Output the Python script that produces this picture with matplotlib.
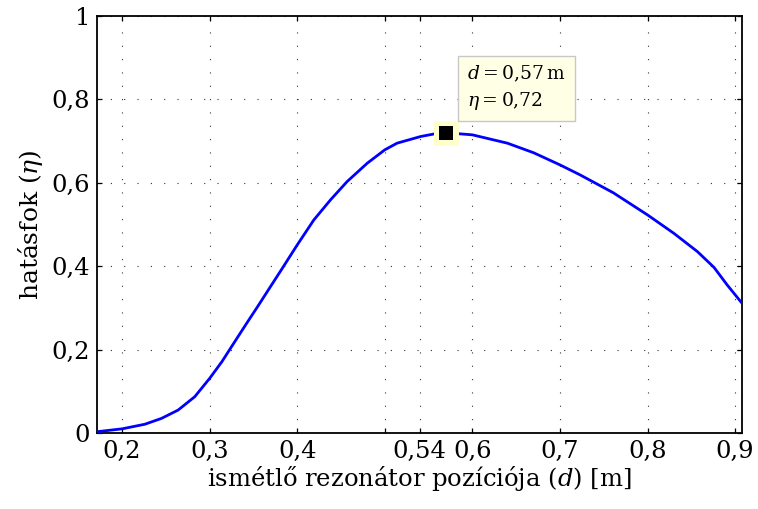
import numpy as np
import matplotlib
matplotlib.use('Agg')
import matplotlib.pyplot as plt

plt.rcParams['font.family'] = ['DejaVu Serif']
plt.rcParams['mathtext.fontset'] = 'dejavuserif'

# values
d = [0.171, 0.200, 0.226, 0.245, 0.264, 0.283, 0.300, 0.314, 0.325, 0.341,
     0.356, 0.367, 0.383, 0.400, 0.419, 0.438, 0.457, 0.480, 0.500, 0.514,
     0.541, 0.556, 0.570, 0.600, 0.640, 0.670, 0.700, 0.723, 0.761, 0.800,
     0.830, 0.857, 0.876, 0.891, 0.908]
eta = [0.003, 0.010, 0.021, 0.035, 0.055, 0.087, 0.131, 0.171, 0.207, 0.259,
       0.307, 0.343, 0.395, 0.451, 0.511, 0.559, 0.603, 0.647, 0.679, 0.695,
       0.711, 0.717, 0.720, 0.715, 0.695, 0.672, 0.643, 0.619, 0.576, 0.523,
       0.479, 0.435, 0.397, 0.355, 0.311]

peak_d = 0.57
peak_eta = 0.72

xticks = [0.2, 0.3, 0.4, 0.5, 0.54, 0.6, 0.7, 0.8, 0.9]
xticklabels = ['0,2', '0,3', '0,4', '', '0,54', '0,6', '0,7', '0,8', '0,9']
yticks = [0, 0.2, 0.4, 0.6, 0.8, 1]
yticklabels = ['0', '0,2', '0,4', '0,6', '0,8', '1']

fig = plt.figure(figsize=(7.58, 5.09), dpi=100)
ax = fig.add_axes([0.128, 0.1493, 0.851, 0.8193])

ax.plot(d, eta, color=(0, 0, 1), lw=2.0, zorder=3, solid_joinstyle='round')
ax.plot([peak_d], [peak_eta], 's', color='#ffffcc', ms=18, mew=0, zorder=4)
ax.plot([peak_d], [peak_eta], 's', color='k', ms=10.5, mew=0, zorder=5)

ax.text(0.594, 0.827, '$d = 0{,}57\\,\\mathrm{m}$\n$\\eta = 0{,}72$',
        fontsize=13.5, ha='left', va='center', linespacing=1.35, zorder=6,
        bbox=dict(boxstyle='square,pad=0.5', fc='#ffffe6', ec='#c8c8c8', lw=1))

ax.set_xlim(0.1714, 0.908)
ax.set_ylim(0, 1)
ax.set_xticks(xticks)
ax.set_xticklabels(xticklabels)
ax.set_yticks(yticks)
ax.set_yticklabels(yticklabels)

ax.grid(True, color='0.2', linestyle=(0, (1, 11)), lw=0.8)
ax.tick_params(direction='in', length=3.5, width=0.9, top=True, right=True,
               labelsize=17.5, pad=5)
for s in ax.spines.values():
    s.set_linewidth(1.3)

ax.set_xlabel('ismétlő rezonátor pozíciója ($d$) [m]', fontsize=17.5, labelpad=1)
ax.set_ylabel('hatásfok ($\\eta$)', fontsize=18, labelpad=5)

fig.savefig('out.png', dpi=100)
